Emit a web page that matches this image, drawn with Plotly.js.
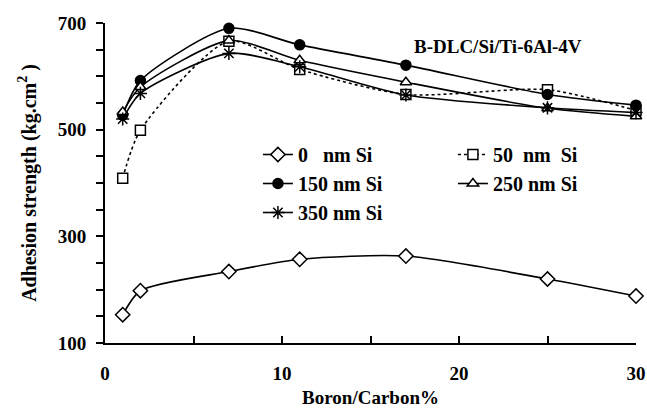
<!DOCTYPE html>
<html>
<head>
<meta charset="utf-8">
<script src="https://cdn.plot.ly/plotly-3.0.1.min.js"></script>
<style>html,body{margin:0;padding:0;background:#fff;}#chart{width:647px;height:415px;}</style>
</head>
<body>
<div id="chart"></div>
<script>
const boronCarbon = [1, 2, 7, 11, 17, 25, 30];
const si0 = [153, 198, 234, 257, 263, 220, 188];
const si50 = [409, 499, 666, 613, 566, 575, 536];
const si150 = [527, 592, 690, 659, 621, 566, 546];
const si250 = [533, 580, 667, 630, 589, 540, 525];
const si350 = [520, 568, 643, 618, 565, 541, 532];
const seriesNames = ['0\u00a0\u00a0\u00a0nm Si', '50\u00a0\u00a0nm\u00a0\u00a0Si', '150 nm Si', '250 nm Si', '350 nm Si'];

const FONT = 'Liberation Serif, Times New Roman, serif';
function tr(y, name, symbol, size, fill, dash) {
  return {
    x: boronCarbon, y: y, name: name, type: 'scatter', mode: 'lines+markers',
    cliponaxis: false,
    line: {color: '#000', width: 1.6, shape: 'spline', smoothing: 0.7, dash: dash || 'solid'},
    marker: {symbol: symbol, size: size, color: fill,
             line: {color: '#000', width: 1.5}}
  };
}
const data = [
  tr(si0, seriesNames[0], 'diamond', 11, '#fff'),
  tr(si50, seriesNames[1], 'square', 10, '#fff', 'dot'),
  tr(si150, seriesNames[2], 'circle', 10, '#000'),
  tr(si250, seriesNames[3], 'triangle-up', 10, '#fff'),
  tr(si350, seriesNames[4], 'asterisk-open', 11, '#000')
];
const layout = {
  width: 647, height: 415,
  margin: {l: 105, r: 11, t: 23, b: 72, autoexpand: false},
  paper_bgcolor: '#fff', plot_bgcolor: '#fff',
  font: {family: FONT, color: '#000', size: 18, weight: 'bold'},
  showlegend: true,
  legend: {
    orientation: 'h', x: 0.288, y: 0.65, xanchor: 'left', yanchor: 'top',
    entrywidth: 150, bgcolor: 'rgba(0,0,0,0)',
    font: {family: FONT, size: 20, color: '#000', weight: 'bold'},
    traceorder: 'normal'
  },
  xaxis: {
    range: [0, 30], showgrid: false, zeroline: false,
    showline: true, linecolor: '#000', linewidth: 2,
    dtick: 10, tick0: 0, ticks: 'inside', ticklen: 7, tickwidth: 2, tickcolor: '#000',
    minor: {dtick: 5, ticks: 'inside', ticklen: 7, tickwidth: 2, tickcolor: '#000'},
    tickfont: {family: FONT, size: 19, color: '#000', weight: 'bold'},
    ticklabelstandoff: 12,
    title: {text: 'Boron/Carbon%', font: {family: FONT, size: 19, color: '#000', weight: 'bold'}, standoff: 8}
  },
  yaxis: {
    range: [100, 700], showgrid: false, zeroline: false,
    showline: true, linecolor: '#000', linewidth: 2,
    dtick: 200, tick0: 100, ticks: 'outside', ticklen: 7, tickwidth: 2, tickcolor: '#000',
    minor: {dtick: 50, ticks: 'outside', ticklen: 7, tickwidth: 2, tickcolor: '#000'},
    tickfont: {family: FONT, size: 19, color: '#000', weight: 'bold'},
    ticklabelstandoff: 6,
    title: {text: 'Adhesion strength (kg.cm<sup>2</sup> )', font: {family: FONT, size: 20, color: '#000', weight: 'bold'}, standoff: 16}
  },
  annotations: [{
    text: 'B-DLC/Si/Ti-6Al-4V', xref: 'paper', yref: 'paper', x: 0.74, y: 0.925,
    xanchor: 'center', yanchor: 'middle', showarrow: false,
    font: {family: FONT, size: 19, color: '#000', weight: 'bold'}
  }]
};
Plotly.newPlot('chart', data, layout, {displayModeBar: false, staticPlot: true});
</script>
</body>
</html>
